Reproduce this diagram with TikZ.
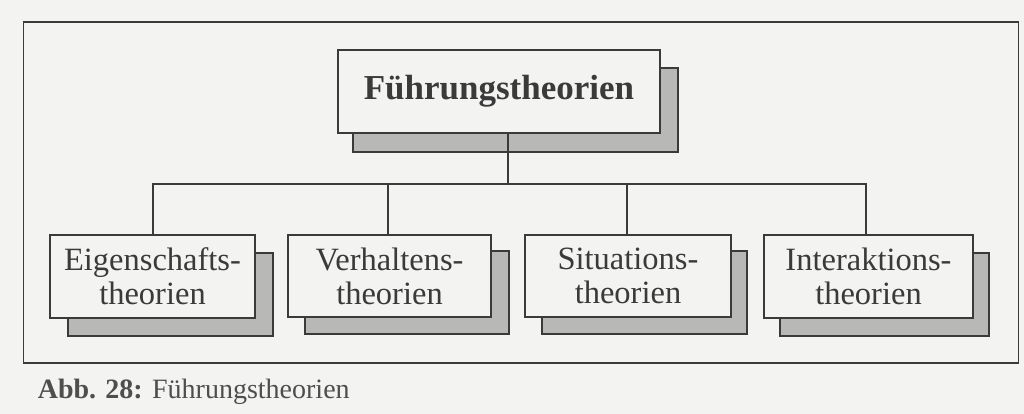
\documentclass[tikz,border=0pt]{standalone}
\usepackage{fontspec}
\setmainfont{Liberation Serif}
\definecolor{bg}{HTML}{F3F3F1}
\definecolor{ink}{HTML}{3A3A3A}
\definecolor{shade}{HTML}{B8B8B6}
\begin{document}
\begin{tikzpicture}[x=1pt,y=-1pt,
  line width=1.6pt,
  boxst/.style={draw=ink,fill=bg,rectangle,inner sep=0pt,text=ink,align=center},
  shadowst/.style={draw=ink,fill=shade,rectangle,inner sep=0pt,line width=1.4pt},
  conn/.style={draw=ink,line width=1.8pt},
  lowtext/.style={font=\fontsize{32.5}{34}\selectfont}
]
\useasboundingbox (0,0) rectangle (1024,414);
\fill[bg] (0,0) rectangle (1024,414);
% outer frame
\node[draw=ink,line width=1.8pt,rectangle,inner sep=0pt,minimum width=995pt,minimum height=341pt] (frame) at (521,192.5) {};
% top box
\node[shadowst,minimum width=325pt,minimum height=84pt] (tops) at (515.5,110) {};
\node[boxst,minimum width=322pt,minimum height=83pt,font=\bfseries\fontsize{35}{38}\selectfont] (top) at (499,91.5) {Führungstheorien};
% bottom boxes
\node[shadowst,minimum width=205pt,minimum height=83pt] (s1) at (170.5,294.5) {};
\node[boxst,lowtext,minimum width=205pt,minimum height=83pt] (b1) at (152.5,276.5) {Eigenschafts-\\theorien};
\node[shadowst,minimum width=204pt,minimum height=83pt] (s2) at (407,292.5) {};
\node[boxst,lowtext,minimum width=203pt,minimum height=82pt] (b2) at (389.5,276) {Verhaltens-\\theorien};
\node[shadowst,minimum width=205pt,minimum height=83pt] (s3) at (644.5,292.5) {};
\node[boxst,lowtext,minimum width=206pt,minimum height=82pt] (b3) at (628,276) {Situations-\\theorien};
\node[shadowst,minimum width=209pt,minimum height=83pt] (s4) at (884.5,294.5) {};
\node[boxst,lowtext,minimum width=209pt,minimum height=83pt] (b4) at (868.5,276.5) {Interaktions-\\theorien};
% connectors
\coordinate (bus) at (508,184);
\draw[conn] (top.south -| bus) -- (bus);
\draw[conn] ([xshift=0.5pt]b1.north) -- ([xshift=0.5pt]b1.north |- bus) -- ([xshift=-2.5pt]b4.north |- bus) -- ([xshift=-2.5pt]b4.north);
\draw[conn] ([xshift=-1.5pt]b2.north) -- ([xshift=-1.5pt]b2.north |- bus);
\draw[conn] ([xshift=-1pt]b3.north) -- ([xshift=-1pt]b3.north |- bus);
% caption
\node[anchor=west,text=ink!90,font=\fontsize{28}{30}\selectfont,inner sep=0pt] (cap) at (37,392) {\textbf{Abb. 28:} Führungstheorien};
\end{tikzpicture}
\end{document}
